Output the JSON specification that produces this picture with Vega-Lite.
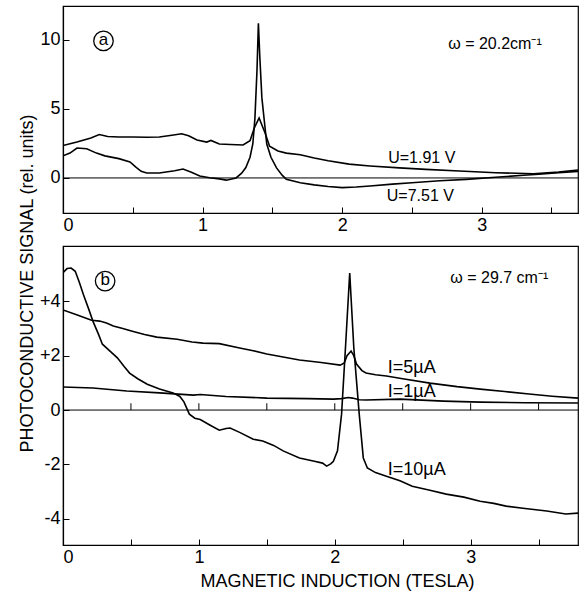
{
  "$schema": "https://vega.github.io/schema/vega-lite/v6.json",
  "padding": {"left": 17, "top": 5, "right": 2, "bottom": 2},
  "bounds": "flush",
  "spacing": 33,
  "config": {
    "font": "Liberation Sans",
    "view": {"stroke": "black", "strokeWidth": 1.2},
    "axis": {"domainColor": "black", "domainWidth": 1.2, "tickColor": "black", "labelColor": "black", "titleColor": "black", "grid": false, "labelFontSize": 18, "titleFontSize": 18, "titleFontWeight": "normal", "tickSize": -6, "labelPadding": 9}
  },
  "datasets": {
    "top": [
      {"series": "U=1.91 V", "x": 0, "y": 2.35},
      {"series": "U=1.91 V", "x": 0.1, "y": 2.6},
      {"series": "U=1.91 V", "x": 0.2, "y": 2.9},
      {"series": "U=1.91 V", "x": 0.26, "y": 3.15},
      {"series": "U=1.91 V", "x": 0.32, "y": 3.0},
      {"series": "U=1.91 V", "x": 0.4, "y": 2.97},
      {"series": "U=1.91 V", "x": 0.5, "y": 2.97},
      {"series": "U=1.91 V", "x": 0.6, "y": 2.95},
      {"series": "U=1.91 V", "x": 0.69, "y": 2.97},
      {"series": "U=1.91 V", "x": 0.78, "y": 3.1},
      {"series": "U=1.91 V", "x": 0.85, "y": 3.2},
      {"series": "U=1.91 V", "x": 0.9, "y": 3.05},
      {"series": "U=1.91 V", "x": 0.96, "y": 2.75},
      {"series": "U=1.91 V", "x": 1.03, "y": 2.6},
      {"series": "U=1.91 V", "x": 1.06, "y": 2.72},
      {"series": "U=1.91 V", "x": 1.12, "y": 2.46},
      {"series": "U=1.91 V", "x": 1.2, "y": 2.42},
      {"series": "U=1.91 V", "x": 1.29, "y": 2.39},
      {"series": "U=1.91 V", "x": 1.34, "y": 2.7},
      {"series": "U=1.91 V", "x": 1.37, "y": 3.6},
      {"series": "U=1.91 V", "x": 1.405, "y": 4.35},
      {"series": "U=1.91 V", "x": 1.45, "y": 3.2},
      {"series": "U=1.91 V", "x": 1.48, "y": 2.3},
      {"series": "U=1.91 V", "x": 1.54, "y": 1.95},
      {"series": "U=1.91 V", "x": 1.6, "y": 1.8},
      {"series": "U=1.91 V", "x": 1.7, "y": 1.68},
      {"series": "U=1.91 V", "x": 1.8, "y": 1.45},
      {"series": "U=1.91 V", "x": 1.9, "y": 1.25},
      {"series": "U=1.91 V", "x": 2.05, "y": 1.0},
      {"series": "U=1.91 V", "x": 2.2, "y": 0.87},
      {"series": "U=1.91 V", "x": 2.41, "y": 0.73},
      {"series": "U=1.91 V", "x": 2.6, "y": 0.62},
      {"series": "U=1.91 V", "x": 2.84, "y": 0.5},
      {"series": "U=1.91 V", "x": 3.1, "y": 0.38},
      {"series": "U=1.91 V", "x": 3.37, "y": 0.3},
      {"series": "U=1.91 V", "x": 3.55, "y": 0.42},
      {"series": "U=1.91 V", "x": 3.69, "y": 0.58},
      {"series": "U=7.51 V", "x": 0, "y": 1.6},
      {"series": "U=7.51 V", "x": 0.05, "y": 1.8},
      {"series": "U=7.51 V", "x": 0.1, "y": 2.17},
      {"series": "U=7.51 V", "x": 0.17, "y": 2.12},
      {"series": "U=7.51 V", "x": 0.24, "y": 1.8},
      {"series": "U=7.51 V", "x": 0.3, "y": 1.6},
      {"series": "U=7.51 V", "x": 0.4, "y": 1.4},
      {"series": "U=7.51 V", "x": 0.48, "y": 1.16},
      {"series": "U=7.51 V", "x": 0.52, "y": 0.8},
      {"series": "U=7.51 V", "x": 0.56, "y": 0.48},
      {"series": "U=7.51 V", "x": 0.6, "y": 0.36},
      {"series": "U=7.51 V", "x": 0.69, "y": 0.36},
      {"series": "U=7.51 V", "x": 0.8, "y": 0.52},
      {"series": "U=7.51 V", "x": 0.86, "y": 0.65},
      {"series": "U=7.51 V", "x": 0.92, "y": 0.42},
      {"series": "U=7.51 V", "x": 0.98, "y": 0.14},
      {"series": "U=7.51 V", "x": 1.05, "y": 0.02},
      {"series": "U=7.51 V", "x": 1.12, "y": -0.07},
      {"series": "U=7.51 V", "x": 1.17, "y": -0.16},
      {"series": "U=7.51 V", "x": 1.24, "y": 0.0},
      {"series": "U=7.51 V", "x": 1.28, "y": 0.35},
      {"series": "U=7.51 V", "x": 1.31, "y": 0.75},
      {"series": "U=7.51 V", "x": 1.34, "y": 1.5},
      {"series": "U=7.51 V", "x": 1.36, "y": 2.46},
      {"series": "U=7.51 V", "x": 1.375, "y": 4.3},
      {"series": "U=7.51 V", "x": 1.39, "y": 7.8},
      {"series": "U=7.51 V", "x": 1.4, "y": 11.2},
      {"series": "U=7.51 V", "x": 1.41, "y": 8.8},
      {"series": "U=7.51 V", "x": 1.425, "y": 5.8},
      {"series": "U=7.51 V", "x": 1.446, "y": 3.8},
      {"series": "U=7.51 V", "x": 1.46, "y": 2.46},
      {"series": "U=7.51 V", "x": 1.49, "y": 1.5},
      {"series": "U=7.51 V", "x": 1.53, "y": 0.73},
      {"series": "U=7.51 V", "x": 1.57, "y": 0.2},
      {"series": "U=7.51 V", "x": 1.6, "y": -0.1},
      {"series": "U=7.51 V", "x": 1.7, "y": -0.35},
      {"series": "U=7.51 V", "x": 1.8, "y": -0.5},
      {"series": "U=7.51 V", "x": 1.9, "y": -0.62},
      {"series": "U=7.51 V", "x": 2.0, "y": -0.7},
      {"series": "U=7.51 V", "x": 2.1, "y": -0.66},
      {"series": "U=7.51 V", "x": 2.2, "y": -0.58},
      {"series": "U=7.51 V", "x": 2.36, "y": -0.45},
      {"series": "U=7.51 V", "x": 2.5, "y": -0.35},
      {"series": "U=7.51 V", "x": 2.7, "y": -0.2},
      {"series": "U=7.51 V", "x": 2.89, "y": -0.1},
      {"series": "U=7.51 V", "x": 3.1, "y": 0.05},
      {"series": "U=7.51 V", "x": 3.3, "y": 0.2},
      {"series": "U=7.51 V", "x": 3.41, "y": 0.27},
      {"series": "U=7.51 V", "x": 3.55, "y": 0.38},
      {"series": "U=7.51 V", "x": 3.69, "y": 0.48}
    ],
    "bottom": [
      {"series": "I=10µA", "x": 0, "y": 5.05},
      {"series": "I=10µA", "x": 0.03, "y": 5.2},
      {"series": "I=10µA", "x": 0.06, "y": 5.22},
      {"series": "I=10µA", "x": 0.09, "y": 5.1},
      {"series": "I=10µA", "x": 0.12, "y": 4.7},
      {"series": "I=10µA", "x": 0.15, "y": 4.25},
      {"series": "I=10µA", "x": 0.19, "y": 3.7},
      {"series": "I=10µA", "x": 0.22, "y": 3.27},
      {"series": "I=10µA", "x": 0.26, "y": 2.8},
      {"series": "I=10µA", "x": 0.29, "y": 2.42},
      {"series": "I=10µA", "x": 0.35, "y": 2.15},
      {"series": "I=10µA", "x": 0.4, "y": 1.92},
      {"series": "I=10µA", "x": 0.45, "y": 1.6},
      {"series": "I=10µA", "x": 0.49, "y": 1.36},
      {"series": "I=10µA", "x": 0.55, "y": 1.15},
      {"series": "I=10µA", "x": 0.62, "y": 0.95},
      {"series": "I=10µA", "x": 0.71, "y": 0.77},
      {"series": "I=10µA", "x": 0.81, "y": 0.63},
      {"series": "I=10µA", "x": 0.86, "y": 0.5},
      {"series": "I=10µA", "x": 0.89, "y": 0.3},
      {"series": "I=10µA", "x": 0.93, "y": -0.15},
      {"series": "I=10µA", "x": 0.97, "y": -0.3},
      {"series": "I=10µA", "x": 1.01, "y": -0.35},
      {"series": "I=10µA", "x": 1.08, "y": -0.55},
      {"series": "I=10µA", "x": 1.15, "y": -0.74},
      {"series": "I=10µA", "x": 1.2, "y": -0.68},
      {"series": "I=10µA", "x": 1.23, "y": -0.66},
      {"series": "I=10µA", "x": 1.3, "y": -0.82},
      {"series": "I=10µA", "x": 1.4, "y": -1.07},
      {"series": "I=10µA", "x": 1.47, "y": -1.14},
      {"series": "I=10µA", "x": 1.55, "y": -1.3},
      {"series": "I=10µA", "x": 1.62, "y": -1.5},
      {"series": "I=10µA", "x": 1.74, "y": -1.76},
      {"series": "I=10µA", "x": 1.85, "y": -1.88},
      {"series": "I=10µA", "x": 1.91, "y": -1.95},
      {"series": "I=10µA", "x": 1.94, "y": -2.06},
      {"series": "I=10µA", "x": 1.97, "y": -1.98},
      {"series": "I=10µA", "x": 1.99, "y": -1.88},
      {"series": "I=10µA", "x": 2.02, "y": -1.5},
      {"series": "I=10µA", "x": 2.05, "y": -0.15},
      {"series": "I=10µA", "x": 2.08, "y": 2.4},
      {"series": "I=10µA", "x": 2.11, "y": 5.04},
      {"series": "I=10µA", "x": 2.14, "y": 2.3},
      {"series": "I=10µA", "x": 2.18, "y": -0.15},
      {"series": "I=10µA", "x": 2.21, "y": -1.76},
      {"series": "I=10µA", "x": 2.24, "y": -2.13},
      {"series": "I=10µA", "x": 2.3, "y": -2.3},
      {"series": "I=10µA", "x": 2.38, "y": -2.43},
      {"series": "I=10µA", "x": 2.48, "y": -2.6},
      {"series": "I=10µA", "x": 2.57, "y": -2.8},
      {"series": "I=10µA", "x": 2.7, "y": -2.95},
      {"series": "I=10µA", "x": 2.82, "y": -3.09},
      {"series": "I=10µA", "x": 2.95, "y": -3.2},
      {"series": "I=10µA", "x": 3.07, "y": -3.35},
      {"series": "I=10µA", "x": 3.17, "y": -3.43},
      {"series": "I=10µA", "x": 3.26, "y": -3.53},
      {"series": "I=10µA", "x": 3.4, "y": -3.62},
      {"series": "I=10µA", "x": 3.56, "y": -3.71},
      {"series": "I=10µA", "x": 3.7, "y": -3.82},
      {"series": "I=10µA", "x": 3.79, "y": -3.79},
      {"series": "I=5µA", "x": 0, "y": 3.68},
      {"series": "I=5µA", "x": 0.1, "y": 3.5},
      {"series": "I=5µA", "x": 0.21, "y": 3.3},
      {"series": "I=5µA", "x": 0.27, "y": 3.27},
      {"series": "I=5µA", "x": 0.32, "y": 3.2},
      {"series": "I=5µA", "x": 0.37, "y": 3.09},
      {"series": "I=5µA", "x": 0.44, "y": 3.0},
      {"series": "I=5µA", "x": 0.51, "y": 2.9},
      {"series": "I=5µA", "x": 0.6, "y": 2.78},
      {"series": "I=5µA", "x": 0.69, "y": 2.68},
      {"series": "I=5µA", "x": 0.84, "y": 2.6},
      {"series": "I=5µA", "x": 0.95, "y": 2.5},
      {"series": "I=5µA", "x": 1.03, "y": 2.46},
      {"series": "I=5µA", "x": 1.15, "y": 2.44},
      {"series": "I=5µA", "x": 1.3, "y": 2.28},
      {"series": "I=5µA", "x": 1.4, "y": 2.18},
      {"series": "I=5µA", "x": 1.5, "y": 2.06},
      {"series": "I=5µA", "x": 1.62, "y": 1.95},
      {"series": "I=5µA", "x": 1.74, "y": 1.84},
      {"series": "I=5µA", "x": 1.9, "y": 1.75},
      {"series": "I=5µA", "x": 2.04, "y": 1.65},
      {"series": "I=5µA", "x": 2.07, "y": 1.73},
      {"series": "I=5µA", "x": 2.09, "y": 2.0},
      {"series": "I=5µA", "x": 2.12, "y": 2.17},
      {"series": "I=5µA", "x": 2.14, "y": 2.0},
      {"series": "I=5µA", "x": 2.16, "y": 1.69},
      {"series": "I=5µA", "x": 2.2, "y": 1.45},
      {"series": "I=5µA", "x": 2.23, "y": 1.36},
      {"series": "I=5µA", "x": 2.3, "y": 1.3},
      {"series": "I=5µA", "x": 2.38, "y": 1.25},
      {"series": "I=5µA", "x": 2.5, "y": 1.15},
      {"series": "I=5µA", "x": 2.7, "y": 0.99},
      {"series": "I=5µA", "x": 2.9, "y": 0.86},
      {"series": "I=5µA", "x": 3.07, "y": 0.77},
      {"series": "I=5µA", "x": 3.25, "y": 0.68},
      {"series": "I=5µA", "x": 3.43, "y": 0.59},
      {"series": "I=5µA", "x": 3.6, "y": 0.51},
      {"series": "I=5µA", "x": 3.79, "y": 0.44},
      {"series": "I=1µA", "x": 0, "y": 0.85},
      {"series": "I=1µA", "x": 0.22, "y": 0.81},
      {"series": "I=1µA", "x": 0.47, "y": 0.7},
      {"series": "I=1µA", "x": 0.71, "y": 0.63},
      {"series": "I=1µA", "x": 0.96, "y": 0.55},
      {"series": "I=1µA", "x": 1.01, "y": 0.57},
      {"series": "I=1µA", "x": 1.2, "y": 0.5},
      {"series": "I=1µA", "x": 1.5, "y": 0.44},
      {"series": "I=1µA", "x": 1.8, "y": 0.42},
      {"series": "I=1µA", "x": 1.99, "y": 0.4},
      {"series": "I=1µA", "x": 2.05, "y": 0.42},
      {"series": "I=1µA", "x": 2.1, "y": 0.46},
      {"series": "I=1µA", "x": 2.13, "y": 0.44},
      {"series": "I=1µA", "x": 2.18, "y": 0.38},
      {"series": "I=1µA", "x": 2.23, "y": 0.37},
      {"series": "I=1µA", "x": 2.48, "y": 0.4},
      {"series": "I=1µA", "x": 2.8, "y": 0.33},
      {"series": "I=1µA", "x": 3.07, "y": 0.29},
      {"series": "I=1µA", "x": 3.4, "y": 0.27},
      {"series": "I=1µA", "x": 3.79, "y": 0.26}
    ],
    "topLabels": [
      {"x": 2.76, "y": 9.7, "label": "ω = 20.2cm⁻¹"},
      {"x": 2.33, "y": 1.45, "label": "U=1.91 V"},
      {"x": 2.32, "y": -1.3, "label": "U=7.51 V"}
    ],
    "bottomOmega": [
      {"x": 2.85, "y": 4.85, "label": "ω = 29.7 cm⁻¹"}
    ],
    "bottomLabels": [
      {"x": 2.39, "y": 1.54, "label": "I=5µA"},
      {"x": 2.39, "y": 0.66, "label": "I=1µA"},
      {"x": 2.39, "y": -2.2, "label": "I=10µA"}
    ],
    "topCirc": [{"x": 0.29, "y": 9.93, "label": "a"}],
    "bottomCirc": [{"x": 0.31, "y": 4.74, "label": "b"}],
    "zeroTicks": [{"x": 0.5}, {"x": 1}, {"x": 1.5}, {"x": 2}, {"x": 2.5}, {"x": 3}, {"x": 3.5}]
  },
  "vconcat": [
    {
      "width": 515,
      "height": 207,
      "layer": [
        {
          "data": {"name": "top"},
          "mark": {"type": "line", "color": "black", "strokeWidth": 1.6, "clip": true},
          "encoding": {
            "x": {"field": "x", "type": "quantitative", "scale": {"domain": [0, 3.69], "nice": false, "zero": false}, "axis": {"values": [0, 0.5, 1, 1.5, 2, 2.5, 3, 3.5], "labelExpr": "datum.value % 1 == 0 ? '' + datum.value : ''", "title": null}},
            "y": {"field": "y", "type": "quantitative", "scale": {"domain": [-2.54, 12.46], "nice": false, "zero": false}, "axis": {"values": [0, 5, 10], "title": null}},
            "detail": {"field": "series"}
          }
        },
        {
          "data": {"values": [{}]},
          "mark": {"type": "rule", "color": "black", "strokeWidth": 1},
          "encoding": {"y": {"datum": 0}}
        },
        {
          "data": {"name": "topLabels"},
          "mark": {"type": "text", "align": "left", "baseline": "middle", "fontSize": 16, "color": "black"},
          "encoding": {"x": {"field": "x", "type": "quantitative"}, "y": {"field": "y", "type": "quantitative"}, "text": {"field": "label"}}
        },
        {
          "data": {"name": "topCirc"},
          "mark": {"type": "point", "shape": "circle", "size": 380, "filled": false, "color": "black", "strokeWidth": 1.3, "opacity": 1},
          "encoding": {"x": {"field": "x", "type": "quantitative"}, "y": {"field": "y", "type": "quantitative"}}
        },
        {
          "data": {"name": "topCirc"},
          "mark": {"type": "text", "align": "center", "baseline": "middle", "fontSize": 17, "color": "black", "dy": -1},
          "encoding": {"x": {"field": "x", "type": "quantitative"}, "y": {"field": "y", "type": "quantitative"}, "text": {"field": "label"}}
        }
      ]
    },
    {
      "width": 515,
      "height": 299,
      "layer": [
        {
          "data": {"name": "bottom"},
          "mark": {"type": "line", "color": "black", "strokeWidth": 1.6, "clip": true},
          "encoding": {
            "x": {"field": "x", "type": "quantitative", "scale": {"domain": [0, 3.79], "nice": false, "zero": false}, "axis": {"values": [0, 0.5, 1, 1.5, 2, 2.5, 3, 3.5], "labelExpr": "datum.value % 1 == 0 ? '' + datum.value : ''", "title": "MAGNETIC  INDUCTION  (TESLA)", "titleX": 274, "titleY": 36, "titleBaseline": "middle"}},
            "y": {"field": "y", "type": "quantitative", "scale": {"domain": [-4.96, 6.03], "nice": false, "zero": false}, "axis": {"values": [-4, -3, -2, -1, 0, 1, 2, 3, 4], "labelExpr": "datum.value % 2 == 0 ? (datum.value > 0 ? '+' + datum.value : '' + datum.value) : ''", "title": "PHOTOCONDUCTIVE   SIGNAL   (rel. units)", "titleAngle": 270, "titleX": -36, "titleY": 37, "titleBaseline": "middle", "titleAlign": "center", "titleFontSize": 18}},
            "detail": {"field": "series"}
          }
        },
        {
          "data": {"values": [{}]},
          "mark": {"type": "rule", "color": "black", "strokeWidth": 1},
          "encoding": {"y": {"datum": 0}}
        },
        {
          "data": {"name": "zeroTicks"},
          "mark": {"type": "rule", "color": "black", "strokeWidth": 1},
          "encoding": {"x": {"field": "x", "type": "quantitative"}, "y": {"datum": 0}, "y2": {"datum": 0.25}}
        },
        {
          "data": {"name": "bottomOmega"},
          "mark": {"type": "text", "align": "left", "baseline": "middle", "fontSize": 16, "color": "black"},
          "encoding": {"x": {"field": "x", "type": "quantitative"}, "y": {"field": "y", "type": "quantitative"}, "text": {"field": "label"}}
        },
        {
          "data": {"name": "bottomLabels"},
          "mark": {"type": "text", "align": "left", "baseline": "middle", "fontSize": 18, "color": "black"},
          "encoding": {"x": {"field": "x", "type": "quantitative"}, "y": {"field": "y", "type": "quantitative"}, "text": {"field": "label"}}
        },
        {
          "data": {"name": "bottomCirc"},
          "mark": {"type": "point", "shape": "circle", "size": 380, "filled": false, "color": "black", "strokeWidth": 1.3, "opacity": 1},
          "encoding": {"x": {"field": "x", "type": "quantitative"}, "y": {"field": "y", "type": "quantitative"}}
        },
        {
          "data": {"name": "bottomCirc"},
          "mark": {"type": "text", "align": "center", "baseline": "middle", "fontSize": 17, "color": "black", "dy": -1},
          "encoding": {"x": {"field": "x", "type": "quantitative"}, "y": {"field": "y", "type": "quantitative"}, "text": {"field": "label"}}
        }
      ]
    }
  ]
}
